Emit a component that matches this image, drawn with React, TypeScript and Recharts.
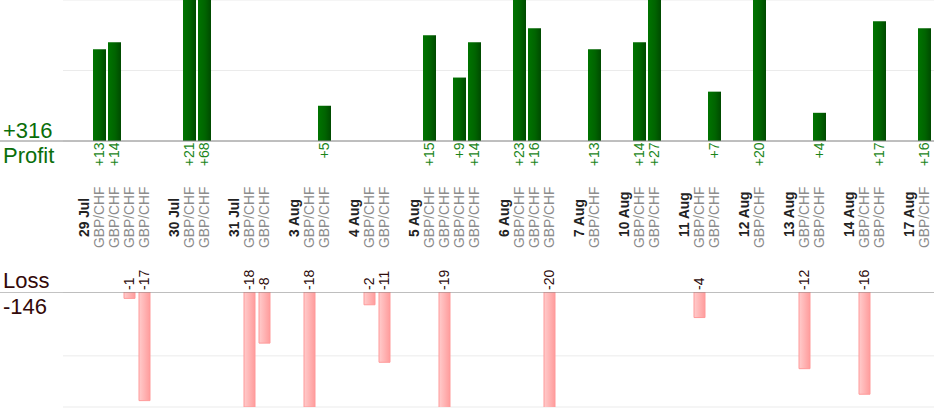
import React from "react";
import { BarChart, Bar, XAxis, YAxis, CartesianGrid, ReferenceLine } from "recharts";

// ---- data ----
const days = ["29 Jul", "30 Jul", "31 Jul", "3 Aug", "4 Aug", "5 Aug", "6 Aug", "7 Aug", "10 Aug", "11 Aug", "12 Aug", "13 Aug", "14 Aug", "17 Aug"];
const pair = "GBP/CHF";
const tradeResults: number[][] = [
  [13, 14, -1, -17],
  [21, 68],
  [-18, -8],
  [-18, 5],
  [-2, -11],
  [15, -19, 9, 14],
  [23, 16, -20],
  [13],
  [14, 27],
  [-4, 7],
  [20],
  [-12, 4],
  [-16, 17],
  [16],
];
const profitTicks = [0, 10, 20];
const lossTicks = [-10, 0];

type Row = { key: string; kind: "day" | "trade" | "gap"; label: string; profit: number | null; loss: number | null };
const rows: Row[] = [];
days.forEach((day, d) => {
  if (d > 0) rows.push({ key: `gap${d}`, kind: "gap", label: "", profit: null, loss: null });
  rows.push({ key: `day${d}`, kind: "day", label: day, profit: null, loss: null });
  tradeResults[d].forEach((v, t) =>
    rows.push({ key: `t${d}-${t}`, kind: "trade", label: pair, profit: v > 0 ? v : null, loss: v < 0 ? v : null })
  );
});
const all = tradeResults.flat();
const totalProfit = all.filter((v) => v > 0).reduce((a, b) => a + b, 0);
const totalLoss = all.filter((v) => v < 0).reduce((a, b) => a + b, 0);

const FONT = "'Liberation Sans', Arial, Helvetica, sans-serif";
const W = 934;
const PAD = { left: 77, right: 2 };

const SlotTick = (props: any) => {
  const { x, y, payload } = props;
  const row = rows[payload.index];
  if (!row || row.kind === "gap") return null;
  const tx = x + 4;
  if (row.kind === "day") {
    return (
      <text transform={`translate(${tx},${y + 96}) rotate(-90)`} fontFamily={FONT} fontSize={13.8} fontWeight="bold" fill="#222" textAnchor="start">
        {row.label}
      </text>
    );
  }
  return (
    <g>
      <text transform={`translate(${tx},${y + 107}) rotate(-90)`} fontFamily={FONT} fontSize={13.8} fill="#8c8c8c" textAnchor="start">
        {row.label}
      </text>
      {row.profit != null && (
        <text transform={`translate(${x + 4.8},${y + 1.5}) rotate(-90)`} fontFamily={FONT} fontSize={14} fill="#1a851a" textAnchor="end">
          {`+${row.profit}`}
        </text>
      )}
      {row.loss != null && (
        <text transform={`translate(${x + 4.8},${y + 149}) rotate(-90)`} fontFamily={FONT} fontSize={14} fill="#2e0c0c" textAnchor="start">
          {`${row.loss}`}
        </text>
      )}
    </g>
  );
};

export default function App() {
  return (
    <div style={{ position: "absolute", left: 0, top: 0, width: W, height: 420, background: "#fff", fontFamily: FONT }}>
      <svg width={0} height={0} style={{ position: "absolute" }}>
        <defs>
          <linearGradient id="gProfit" x1="0" y1="0" x2="1" y2="0">
            <stop offset="0%" stopColor="#007400" />
            <stop offset="55%" stopColor="#006400" />
            <stop offset="100%" stopColor="#004a00" />
          </linearGradient>
          <linearGradient id="gLoss" x1="0" y1="0" x2="1" y2="0">
            <stop offset="0%" stopColor="#ffcccc" />
            <stop offset="100%" stopColor="#ff9c9c" />
          </linearGradient>
        </defs>
      </svg>
      <svg width={W} height={420} style={{ position: "absolute", left: 0, top: 0 }}>
        <text x={3} y={138} fontFamily={FONT} fontSize={22} fill="#0a6e0a">{`+${totalProfit}`}</text>
        <text x={3} y={163} fontFamily={FONT} fontSize={22} fill="#0a6e0a">Profit</text>
        <text x={3} y={288} fontFamily={FONT} fontSize={22} fill="#330a0a">Loss</text>
        <text x={3} y={314} fontFamily={FONT} fontSize={22} fill="#330a0a">{`${totalLoss}`}</text>
      </svg>
      <div style={{ position: "absolute", left: 0, top: 0 }}>
        <BarChart width={W} height={292} data={rows} margin={{ top: 0, right: 0, bottom: 0, left: 0 }}>
          <CartesianGrid horizontal vertical={false} x={63} width={W - 63} stroke="#ebebeb" />
          <XAxis
            dataKey="key"
            type="category"
            interval={0}
            height={151}
            padding={PAD}
            tickLine={false}
            tickSize={0}
            tickMargin={0}
            axisLine={{ stroke: "#888" }}
            tick={<SlotTick />}
          />
          <YAxis hide domain={[0, 20]} ticks={profitTicks} allowDataOverflow />
          <Bar dataKey="profit" barSize={13} fill="url(#gProfit)" isAnimationActive={false} />
        </BarChart>
      </div>
      <div style={{ position: "absolute", left: 0, top: 292 }}>
        <BarChart width={W} height={116} data={rows} margin={{ top: 0, right: 0, bottom: 1, left: 0 }}>
          <CartesianGrid horizontal vertical={false} x={63} width={W - 63} stroke="#ebebeb" />
          <XAxis dataKey="key" type="category" hide padding={PAD} />
          <YAxis hide domain={[-18, 0]} ticks={lossTicks} allowDataOverflow />
          <ReferenceLine y={0} stroke="#888" />
          <Bar dataKey="loss" barSize={11} fill="url(#gLoss)" stroke="#ff9a9a" strokeWidth={1} isAnimationActive={false} />
        </BarChart>
      </div>
    </div>
  );
}
